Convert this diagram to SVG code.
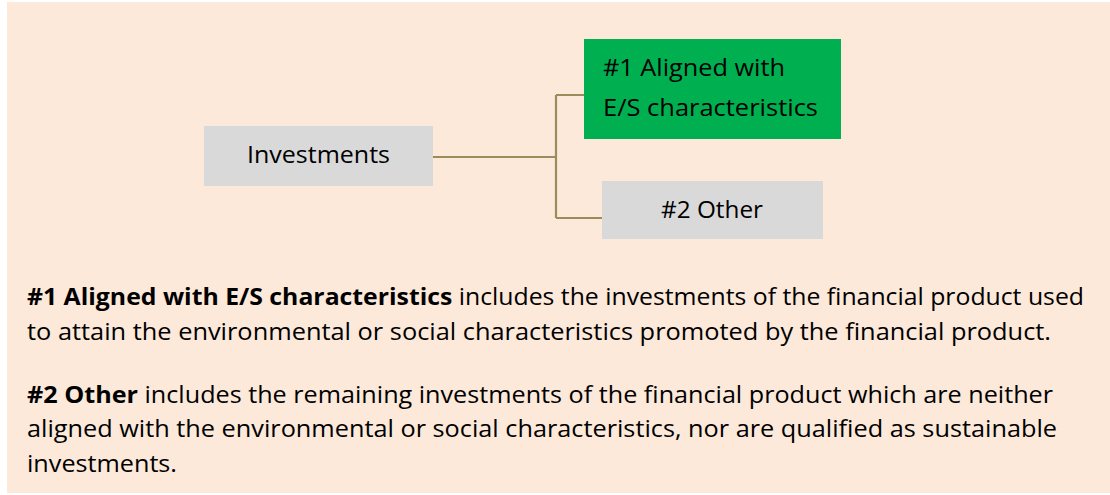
<svg xmlns="http://www.w3.org/2000/svg" width="1110" height="495" viewBox="0 0 1110 495">
<style>
.t{font-family:"Open Sans","Liberation Sans",sans-serif;font-size:23px;fill:#000}
.b{font-weight:bold}
.box{fill:#D9D9D9}
.conn{fill:none;stroke:#9C8B5B;stroke-width:2.2}
</style>
<rect x="0" y="0" width="1110" height="495" fill="#FFFFFF"/>
<rect x="7" y="2" width="1103" height="491" fill="#FCE9DA"/>
<g id="connectors">
<path class="conn" d="M433 157 H556 M556 95 V218 M556 95 H584 M556 218 H602"/>
</g>
<g id="investments">
<rect class="box" x="204" y="126" width="229" height="60"/>
<text class="t" x="247" y="163" textLength="143" lengthAdjust="spacingAndGlyphs">Investments</text>
</g>
<g id="aligned">
<rect x="584" y="39" width="257" height="100" fill="#00B050"/>
<text class="t" x="603" y="76" textLength="182" lengthAdjust="spacingAndGlyphs">#1 Aligned with</text>
<text class="t" x="603" y="116" textLength="215" lengthAdjust="spacingAndGlyphs">E/S characteristics</text>
</g>
<g id="other">
<rect class="box" x="602" y="181" width="221" height="58"/>
<text class="t" x="661" y="218" textLength="102" lengthAdjust="spacingAndGlyphs">#2 Other</text>
</g>
<g id="legend">
<text class="t" x="27" y="305" textLength="1057" lengthAdjust="spacingAndGlyphs"><tspan class="b">#1 Aligned with E/S characteristics</tspan> includes the investments of the financial product used</text>
<text class="t" x="27" y="340" textLength="1024" lengthAdjust="spacingAndGlyphs">to attain the environmental or social characteristics promoted by the financial product.</text>
<text class="t" x="27" y="403" textLength="1026" lengthAdjust="spacingAndGlyphs"><tspan class="b">#2 Other</tspan> includes the remaining investments of the financial product which are neither</text>
<text class="t" x="27" y="437" textLength="1030" lengthAdjust="spacingAndGlyphs">aligned with the environmental or social characteristics, nor are qualified as sustainable</text>
<text class="t" x="27" y="472" textLength="150" lengthAdjust="spacingAndGlyphs">investments.</text>
</g>
</svg>
